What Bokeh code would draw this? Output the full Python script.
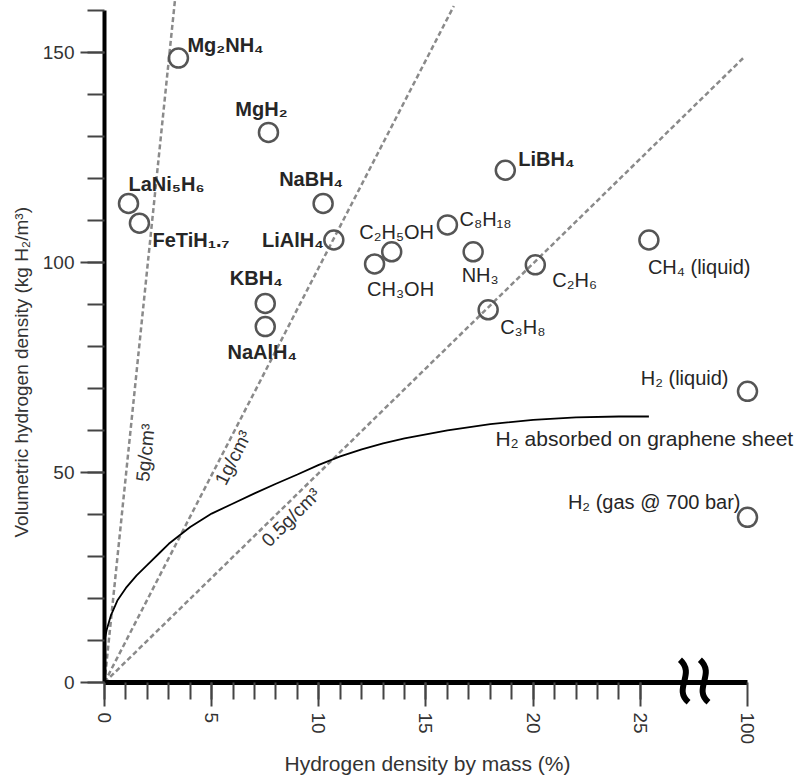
import math
from bokeh.plotting import figure
from bokeh.models import ColumnDataSource, FixedTicker, Range1d, Title
from bokeh.core.properties import value
from bokeh.embed import file_html
from bokeh.resources import INLINE

# ---------------- data ----------------
materials = ["Mg₂NH₄", "MgH₂", "NaBH₄", "LaNi₅H₆", "FeTiH₁.₇", "LiAlH₄", "KBH₄", "NaAlH₄", "LiBH₄",
             "C₂H₅OH", "CH₃OH", "C₈H₁₈", "NH₃", "C₂H₆", "C₃H₈", "CH₄ (liquid)", "H₂ (liquid)",
             "H₂ (gas @ 700 bar)"]
mass_pct = [3.45, 7.65, 10.2, 1.12, 1.63, 10.7, 7.5, 7.5, 18.7,
            13.4, 12.6, 16.0, 17.2, 20.1, 17.9, 25.4, 100, 100]
vol_density = [148.6, 130.9, 114.0, 114.0, 109.3, 105.3, 90.2, 84.7, 121.9,
               102.5, 99.6, 108.9, 102.5, 99.4, 88.7, 105.3, 69.3, 39.3]
is_hydride = [True] * 9 + [False] * 9

graphene_x = [0, 0.1, 0.3, 0.6, 1, 1.5, 2, 2.6, 3, 4, 5, 6, 7, 8, 9, 10, 11, 12, 13, 14, 16, 18, 20, 22, 24, 25.4]
graphene_y = [10, 12.5, 16, 19.5, 22.5, 25.5, 28, 31, 33, 37, 40.2, 42.6, 45, 47.3, 49.5, 51.8, 53.8,
              55.5, 56.9, 58.1, 60, 61.5, 62.5, 63.1, 63.3, 63.3]
graphene_label = "H₂ absorbed on graphene sheet"

density_labels = ["5g/cm³", "1g/cm³", "0.5g/cm³"]
density_end_x = [3.3, 16.3, 29.8]
density_end_y = [163, 161, 148.6]

x_ticks = [0, 5, 10, 15, 20, 25, 100]
y_ticks = [0, 50, 100, 150]

x_title = "Hydrogen density by mass (%)"
y_title = "Volumetric hydrogen density (kg H₂/m³)"

# --------------- layout helpers ---------------
BREAK_POS = 30  # axis position where "100" is drawn (after the break)

def axis_x(m):
    return m if m < BREAK_POS else BREAK_POS

# label offsets in screen px (dx right, dy down) and alignment
label_dx = [9, -7, -12, 0, 13, -10, -9, -3, 13, 5, 26, 12, 7, 17, 12, -1, -19, -7]
label_dy = [-13, -23, -24, -19, 17, 0, -25, 25, -11, -20, 25, -6, 23, 15, 17, 27, -13, -15]
label_align = ["left", "center", "center", "left", "left", "right", "center", "center", "left",
               "center", "center", "left", "center", "left", "left", "left", "right", "right"]

FONT = "Liberation Sans"
TXT = "#262626"

p = figure(width=800, height=784, x_range=Range1d(0, 30.14), y_range=Range1d(0, 162.3),
           output_backend="svg", toolbar_location=None,
           min_border_left=104, min_border_right=50, min_border_top=0, min_border_bottom=102)
p.outline_line_color = None
p.grid.visible = False
p.background_fill_color = "white"
p.border_fill_color = "white"

# axes
xa = p.xaxis[0]
xa.ticker = FixedTicker(ticks=[axis_x(t) for t in x_ticks],
                        minor_ticks=[i for i in range(0, 26)])
xa.major_label_overrides = {axis_x(t): str(t) for t in x_ticks}
xa.bounds = (0, BREAK_POS)
xa.axis_line_width = 5
xa.axis_line_color = "black"
xa.major_tick_out = 24
xa.major_tick_in = 0
xa.minor_tick_out = 17
xa.minor_tick_in = 0
xa.major_tick_line_width = 2
xa.minor_tick_line_width = 2
xa.major_tick_line_color = "#444"
xa.minor_tick_line_color = "#444"
xa.major_label_orientation = "vertical"
xa.major_label_standoff = 6
xa.major_label_text_font = FONT
xa.major_label_text_font_size = "19px"
xa.major_label_text_color = "#333"
xa.axis_label = x_title
xa.axis_label_text_font = FONT
xa.axis_label_text_font_size = "21px"
xa.axis_label_text_font_style = "normal"
xa.axis_label_text_color = "#333"
xa.axis_label_standoff = 5

ya = p.yaxis[0]
ya.ticker = FixedTicker(ticks=y_ticks, minor_ticks=[v for v in range(0, 161, 10)])
ya.bounds = (0, 160)
ya.axis_line_width = 4
ya.axis_line_color = "black"
ya.major_tick_out = 24
ya.major_tick_in = 0
ya.minor_tick_out = 17
ya.minor_tick_in = 0
ya.major_tick_line_width = 2
ya.minor_tick_line_width = 2
ya.major_tick_line_color = "#444"
ya.minor_tick_line_color = "#444"
ya.major_label_standoff = 6
ya.major_label_text_font = FONT
ya.major_label_text_font_size = "19px"
ya.major_label_text_color = "#333"

# y-axis title as a side title, shifted to where the original has it
p.add_layout(Title(text=y_title, align="left", offset=145, standoff=15,
                   text_font=FONT, text_font_size="19px", text_font_style="normal",
                   text_color="#333"), "left")

# density lines
for ex, ey in zip(density_end_x, density_end_y):
    p.line([0, ex], [0, ey], line_color="#8a8a8a", line_width=2.5, line_dash="5 3")

# density labels
dens_lab_x = [1.91, 6.0, 8.7]
dens_lab_y = [54.7, 53.5, 39.3]
dens_angle = [math.radians(84.2), math.radians(63.1), math.radians(44.6)]
p.text(x=dens_lab_x, y=dens_lab_y, text=density_labels, angle=dens_angle,
       text_font=value(FONT), text_font_size="19px", text_color="#333",
       text_align="center", text_baseline="middle")

# graphene curve
p.line(graphene_x, graphene_y, line_color="black", line_width=1.8)
p.text(x=[18.24], y=[58.0], text=[graphene_label], text_font=value(FONT), text_font_size="21px",
       text_color=TXT, text_align="left", text_baseline="middle", level="overlay")

# circles
src = ColumnDataSource(dict(x=[axis_x(m) for m in mass_pct], y=vol_density))
p.scatter("x", "y", source=src, marker="circle", size=19, fill_color=None,
          line_color="#555555", line_width=2.5, level="overlay")

# labels
for align in ["left", "center", "right"]:
    for bold in [True, False]:
        idx = [i for i in range(len(materials)) if label_align[i] == align and is_hydride[i] == bold]
        if not idx:
            continue
        s = ColumnDataSource(dict(
            x=[axis_x(mass_pct[i]) for i in idx],
            y=[vol_density[i] for i in idx],
            t=[materials[i] for i in idx],
            dx=[label_dx[i] for i in idx],
            dy=[label_dy[i] for i in idx],
        ))
        p.text(x="x", y="y", text="t", x_offset="dx", y_offset="dy", source=s,
               text_font=value(FONT), text_font_size="20px",
               text_font_style="bold" if bold else "normal",
               text_color=TXT, text_align=align, text_baseline="middle", level="overlay")

# axis break symbol
for bx in [27.05, 27.98]:
    p.bezier(x0=[bx - 0.2], y0=[5.4], x1=[bx + 0.2], y1=[-4.7],
             cx0=[bx + 0.55], cy0=[2.0], cx1=[bx - 0.55], cy1=[-1.5],
             line_color="black", line_width=6, level="overlay")

open("out.html", "w").write(file_html(p, INLINE))
